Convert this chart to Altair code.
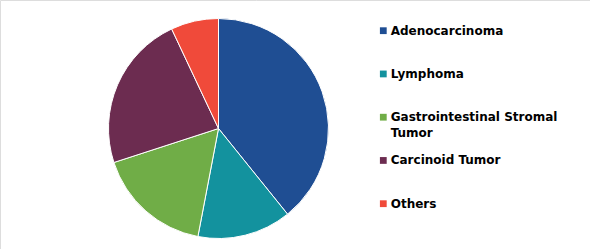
import altair as alt
import pandas as pd

categories = ["Adenocarcinoma", "Lymphoma", "Gastrointestinal Stromal\nTumor", "Carcinoid Tumor", "Others"]
shares = [39.2, 13.8, 17.0, 23.0, 7.0]
colors = ["#1f4e93", "#13929e", "#70ad47", "#6c2c50", "#f04a3a"]

df = pd.DataFrame({
    "category": categories,
    "share": shares,
    "idx": list(range(len(categories))),
})

color_scale = alt.Scale(domain=categories, range=colors)

pie = alt.Chart(df).mark_arc(outerRadius=110, stroke="white", strokeWidth=1).encode(
    theta=alt.Theta("share:Q", stack=True),
    order=alt.Order("idx:Q"),
    color=alt.Color("category:N", scale=color_scale, legend=None),
    x=alt.value(218.5),
    y=alt.value(128.5),
)

yscale = alt.Scale(domain=[0, 4], range=[30.7, 203.7])

squares = alt.Chart(df).mark_square(size=46, opacity=1).encode(
    x=alt.value(383.3),
    y=alt.Y("idx:Q", scale=yscale, axis=None),
    color=alt.Color("category:N", scale=color_scale, legend=None),
)

labels = alt.Chart(df).mark_text(
    align="left", baseline="alphabetic", dy=3.8, font="DejaVu Sans", fontWeight="bold",
    fontSize=12, color="#000000", lineBreak="\n", lineHeight=16,
).encode(
    x=alt.value(390.7),
    y=alt.Y("idx:Q", scale=yscale, axis=None),
    text="category:N",
)

chart = alt.layer(pie, squares, labels).properties(
    width=590, height=249, padding=0, autosize=alt.AutoSizeParams(type="none"),
).configure_view(stroke=None).configure(background="white")

chart.save("out.html", embed_options={"renderer": "svg", "actions": False})
